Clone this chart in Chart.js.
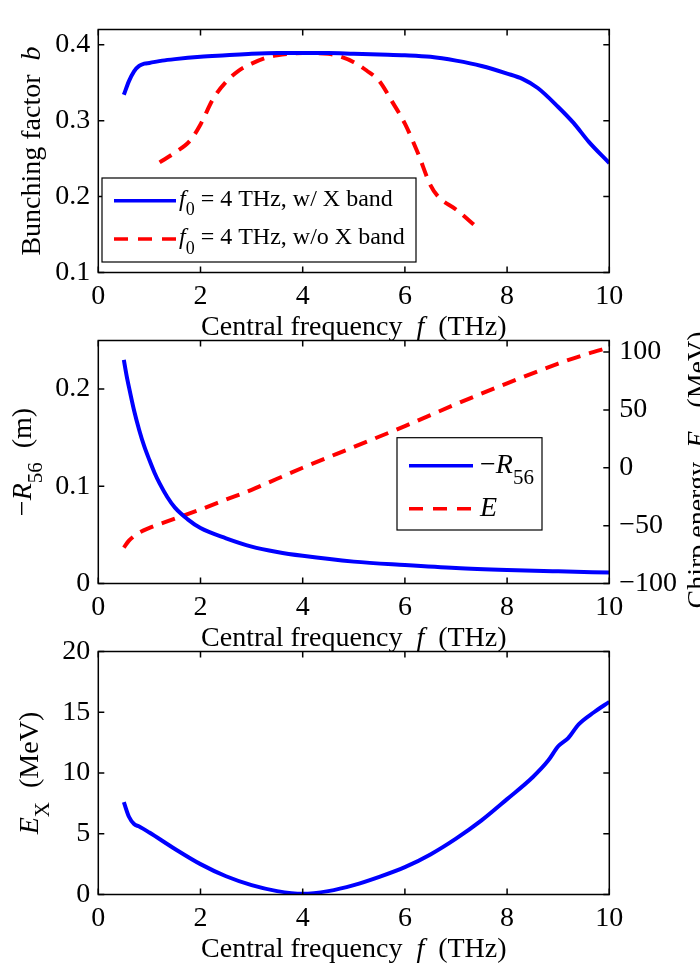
<!DOCTYPE html>
<html>
<head>
<meta charset="utf-8">
<script src="https://cdn.jsdelivr.net/npm/chart.js@4.4.1/dist/chart.umd.min.js"></script>
<style>
  html, body { margin: 0; padding: 0; background: #fff; }
  #wrap { position: relative; width: 700px; height: 975px; overflow: hidden; }
  #wrap canvas { position: absolute; left: 0; }
</style>
</head>
<body>
<div id="wrap">
  <canvas id="c1" width="700" height="350" style="top:0px"></canvas>
  <canvas id="c2" width="700" height="350" style="top:311px"></canvas>
  <canvas id="c3" width="700" height="350" style="top:622px"></canvas>
</div>
<script>
// bunching factor vs central frequency, R56 / chirp, X-band voltage

// top panel
const freqWithX = [0.5, 0.6, 0.7, 0.8, 0.9, 1.0, 1.25, 1.5, 2, 2.5, 3, 3.5, 4, 4.5, 5, 5.5, 6, 6.5, 7, 7.5, 8, 8.3, 8.6, 9, 9.3, 9.6, 10];
const bunchWithX = [0.334, 0.352, 0.365, 0.372, 0.375, 0.376, 0.379, 0.381, 0.384, 0.386, 0.388, 0.389, 0.389, 0.389, 0.388, 0.387, 0.386, 0.384, 0.379, 0.372, 0.362, 0.355, 0.343, 0.318, 0.297, 0.272, 0.244];
const freqNoX = [1.2, 1.5, 1.8, 2.0, 2.25, 2.5, 2.75, 3.0, 3.25, 3.5, 4.0, 4.5, 4.75, 5.0, 5.25, 5.5, 5.75, 6.0, 6.25, 6.5, 6.65, 7.0, 7.4];
const bunchNoX = [0.245, 0.258, 0.274, 0.295, 0.329, 0.351, 0.366, 0.375, 0.382, 0.386, 0.389, 0.388, 0.384, 0.377, 0.366, 0.352, 0.325, 0.296, 0.258, 0.215, 0.200, 0.183, 0.160];

// middle panel
const freqR56 = [0.5, 0.55, 0.6, 0.7, 0.8, 0.9, 1.0, 1.1, 1.2, 1.35, 1.5, 1.75, 2, 2.5, 3, 3.5, 4, 5, 6, 7, 8, 9, 10];
const minusR56 = [0.230, 0.215, 0.202, 0.178, 0.158, 0.141, 0.127, 0.114, 0.103, 0.089, 0.078, 0.066, 0.057, 0.0465, 0.038, 0.0325, 0.0285, 0.0225, 0.019, 0.016, 0.014, 0.0125, 0.0112];
const freqChirp = [0.5, 0.6, 0.7, 0.8, 1, 1.5, 2, 2.5, 3, 3.5, 4, 5, 6, 7, 8, 9, 9.5, 10];
const chirpE = [-69, -63, -59, -56, -52, -44, -36, -27.5, -19, -9.5, 0, 18, 36, 55, 73, 90, 97.5, 104];

// bottom panel
const freqEx = [0.5, 0.6, 0.7, 0.8, 1, 1.5, 2, 2.5, 3, 3.5, 4, 4.5, 5, 5.5, 6, 6.5, 7, 7.5, 8, 8.5, 8.8, 9, 9.2, 9.4, 9.7, 10];
const energyX = [7.6, 6.4, 5.8, 5.6, 5.1, 3.75, 2.5, 1.5, 0.77, 0.28, 0.06, 0.28, 0.77, 1.45, 2.25, 3.3, 4.6, 6.1, 7.85, 9.65, 11.0, 12.2, 12.9, 14.0, 15.0, 15.85];

// ticks
const xTicks = [0, 2, 4, 6, 8, 10];
const bunchTicks = [0.1, 0.2, 0.3, 0.4];
const r56Ticks = [0, 0.1, 0.2];
const chirpTicks = [-100, -50, 0, 50, 100];
const exTicks = [0, 5, 10, 15, 20];

const FONT = '"Liberation Serif", "Times New Roman", serif';
const TICK_FS = 28;
const TICK = 6;
const BLUE = '#0000ff';
const RED = '#ff0000';

const el = (id) => document.getElementById(id);
const pts = (xs, ys) => xs.map((x, i) => ({ x, y: ys[i] }));
const fmt = (v) => String(v).replace('-', '\u2212');

function setFont(ctx, p, size) {
  const sz = p.sub ? size * 0.75 : size;
  ctx.font = (p.it ? 'italic ' : '') + sz + 'px ' + FONT;
}

// draw text made of parts (italic / subscript), rotated around (x, y)
function drawRich(ctx, parts, x, y, size, rot, center) {
  ctx.save();
  ctx.translate(x, y);
  ctx.rotate(rot);
  ctx.textBaseline = 'alphabetic';
  ctx.textAlign = 'left';
  ctx.fillStyle = '#000';
  let w = 0;
  parts.forEach((p) => { setFont(ctx, p, size); w += ctx.measureText(p.t).width; });
  let cx = center ? -w / 2 : 0;
  parts.forEach((p) => {
    setFont(ctx, p, size);
    ctx.fillText(p.t, cx, p.sub ? size * 0.4 : 0);
    cx += ctx.measureText(p.t).width;
  });
  ctx.restore();
}

const xTitle = [{ t: 'Central frequency  ' }, { t: 'f', it: 1 }, { t: '  (THz)' }];

const frame = {
  id: 'frame',
  afterDatasetsDraw(chart, args, o) {
    const { ctx, chartArea: a } = chart;
    const sx = chart.scales.x, sy = chart.scales.y, sy2 = chart.scales.y2;
    ctx.save();
    ctx.strokeStyle = '#000';
    ctx.lineWidth = 1.5;
    ctx.strokeRect(a.left, a.top, a.width, a.height);
    ctx.beginPath();
    sx.ticks.forEach((t) => {
      const px = sx.getPixelForValue(t.value);
      ctx.moveTo(px, a.bottom); ctx.lineTo(px, a.bottom - TICK);
      ctx.moveTo(px, a.top); ctx.lineTo(px, a.top + TICK);
    });
    sy.ticks.forEach((t) => {
      const py = sy.getPixelForValue(t.value);
      ctx.moveTo(a.left, py); ctx.lineTo(a.left + TICK, py);
      if (!sy2) { ctx.moveTo(a.right, py); ctx.lineTo(a.right - TICK, py); }
    });
    if (sy2) {
      sy2.ticks.forEach((t) => {
        const py = sy2.getPixelForValue(t.value);
        ctx.moveTo(a.right, py); ctx.lineTo(a.right - TICK, py);
      });
    }
    ctx.stroke();
    ctx.restore();

    const midY = (a.top + a.bottom) / 2;
    drawRich(ctx, xTitle, (a.left + a.right) / 2, a.bottom + 62.5, TICK_FS, 0, true);
    drawRich(ctx, o.yTitle, o.yTitleX, midY, TICK_FS, -Math.PI / 2, true);
    if (o.y2Title) drawRich(ctx, o.y2Title, o.y2TitleX, midY + 8, TICK_FS, -Math.PI / 2, true);

    // legend
    const L = o.legend;
    if (!L) return;
    ctx.save();
    ctx.fillStyle = '#fff';
    ctx.fillRect(a.left + L.box[0], a.top + L.box[1], L.box[2], L.box[3]);
    ctx.strokeStyle = '#000';
    ctx.lineWidth = 1.2;
    ctx.strokeRect(a.left + L.box[0], a.top + L.box[1], L.box[2], L.box[3]);
    L.rows.forEach((r, i) => {
      const ds = chart.data.datasets[i];
      const y = a.top + r.dy;
      ctx.beginPath();
      ctx.strokeStyle = ds.borderColor;
      ctx.lineWidth = 3.5;
      ctx.setLineDash(ds.borderDash.length ? [14, 10] : []);
      ctx.moveTo(a.left + L.line[0], y);
      ctx.lineTo(a.left + L.line[1], y);
      ctx.stroke();
      ctx.setLineDash([]);
      drawRich(ctx, r.parts, a.left + L.textX, y + L.base, L.size, 0, false);
    });
    ctx.restore();
  },
};

function xScale() {
  return {
    type: 'linear', min: 0, max: 10,
    grid: { display: false, drawTicks: false }, border: { display: false },
    afterBuildTicks: (s) => { s.ticks = xTicks.map((v) => ({ value: v })); },
    afterFit: (s) => { s.height = 77.5; },
    ticks: { padding: 7, color: '#000', font: { size: TICK_FS }, maxRotation: 0, autoSkip: false, callback: fmt },
  };
}

function yScale(min, max, ticks, pos, width, pad) {
  return {
    type: 'linear', position: pos, min, max,
    grid: { display: false, drawTicks: false }, border: { display: false },
    afterBuildTicks: (s) => { s.ticks = ticks.map((v) => ({ value: v })); },
    afterFit: (s) => { s.width = width; },
    ticks: { padding: pad, color: '#000', font: { size: TICK_FS }, autoSkip: false, callback: fmt },
  };
}

function line(data, color, dashed, axis) {
  return {
    data, borderColor: color, borderWidth: 4, pointRadius: 0,
    borderDash: dashed ? [14, 9] : [], cubicInterpolationMode: 'monotone',
    yAxisID: axis || 'y', fill: false,
  };
}

Chart.defaults.font.family = FONT;
Chart.defaults.color = '#000';

function makeChart(id, datasets, scales, padRight, frameOpts) {
  return new Chart(el(id), {
    type: 'line',
    data: { datasets },
    options: {
      responsive: false, animation: false, devicePixelRatio: 1,
      layout: { padding: { top: 29.5, right: padRight, left: 0, bottom: 0 } },
      plugins: { legend: { display: false }, tooltip: { enabled: false }, frame: frameOpts },
      scales,
    },
    plugins: [frame],
  });
}

makeChart('c1',
  [line(pts(freqWithX, bunchWithX), BLUE, false), line(pts(freqNoX, bunchNoX), RED, true)],
  { x: xScale(), y: yScale(0.1, 0.42, bunchTicks, 'left', 98.3, 8) },
  90.7,
  {
    yTitle: [{ t: 'Bunching factor  ' }, { t: 'b', it: 1 }], yTitleX: 40,
    legend: {
      box: [3.7, 148.5, 314, 84], line: [15.7, 77.7], textX: 80.7, base: 5, size: 24,
      rows: [
        { dy: 171.2, parts: [{ t: 'f', it: 1 }, { t: '0', sub: 1 }, { t: ' = 4 THz, w/ X band' }] },
        { dy: 209.5, parts: [{ t: 'f', it: 1 }, { t: '0', sub: 1 }, { t: ' = 4 THz, w/o X band' }] },
      ],
    },
  });

makeChart('c2',
  [line(pts(freqR56, minusR56), BLUE, false), line(pts(freqChirp, chirpE), RED, true, 'y2')],
  {
    x: xScale(),
    y: yScale(0, 0.25, r56Ticks, 'left', 98.3, 8),
    y2: yScale(-100, 110, chirpTicks, 'right', 90.7, 10),
  },
  0,
  {
    yTitle: [{ t: '\u2212' }, { t: 'R', it: 1 }, { t: '56', sub: 1 }, { t: '  (m)' }], yTitleX: 31,
    y2Title: [{ t: 'Chirp energy  ' }, { t: 'E', it: 1 }, { t: 'c', sub: 1 }, { t: '  (MeV)' }], y2TitleX: 706,
    legend: {
      box: [298.7, 97.2, 145, 92.3], line: [310.7, 374.7], textX: 381.7, base: 7, size: 28,
      rows: [
        { dy: 125.2, parts: [{ t: '\u2212' }, { t: 'R', it: 1 }, { t: '56', sub: 1 }] },
        { dy: 168.2, parts: [{ t: 'E', it: 1 }] },
      ],
    },
  });

makeChart('c3',
  [line(pts(freqEx, energyX), BLUE, false)],
  { x: xScale(), y: yScale(0, 20, exTicks, 'left', 98.3, 8) },
  90.7,
  {
    yTitle: [{ t: 'E', it: 1 }, { t: 'X', sub: 1 }, { t: '  (MeV)' }], yTitleX: 38,
    legend: null,
  });
</script>
</body>
</html>
